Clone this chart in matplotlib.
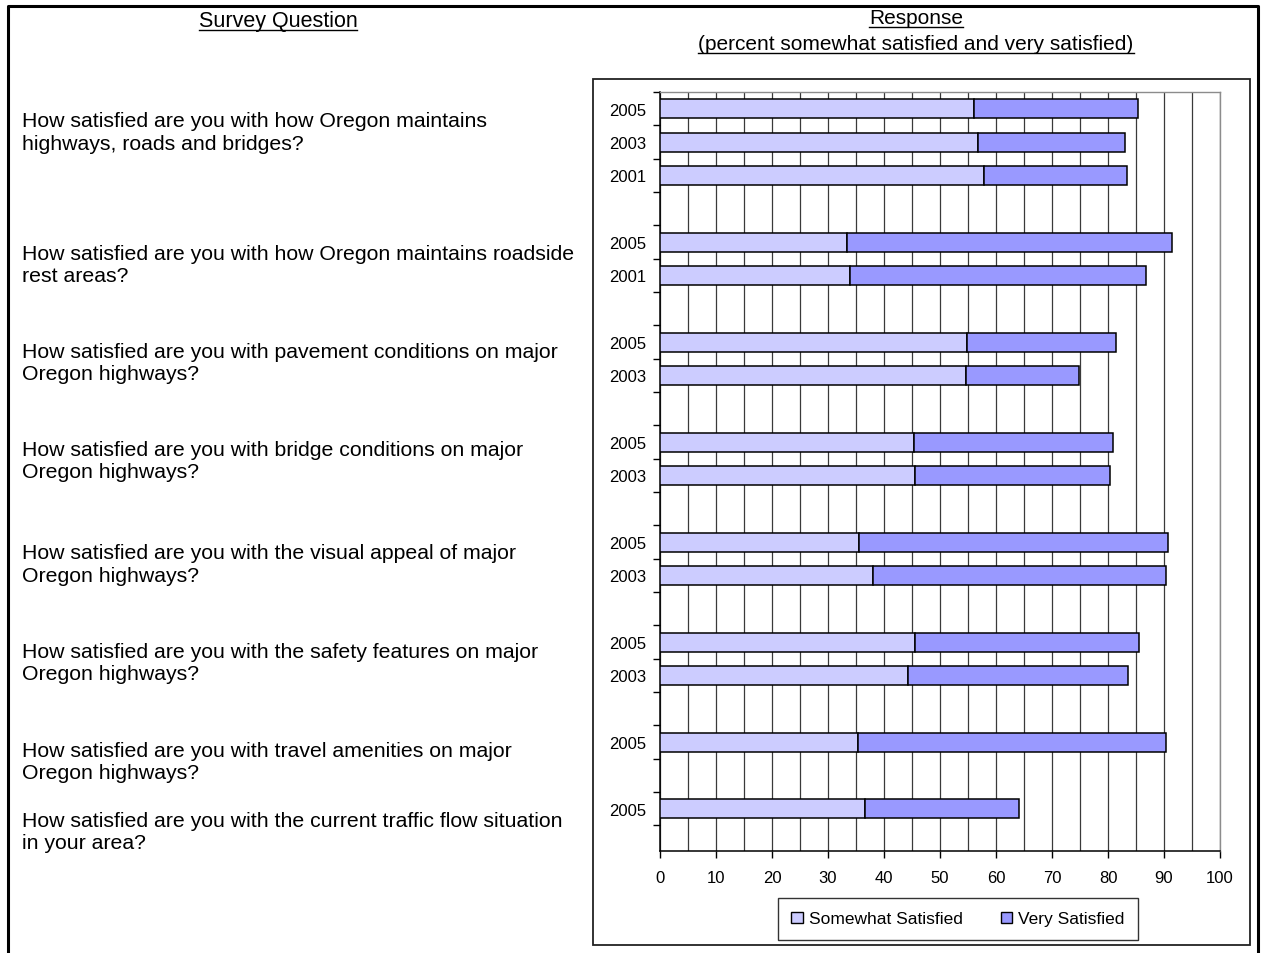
import matplotlib
matplotlib.use("Agg")
import matplotlib.pyplot as plt
from matplotlib.ticker import FixedLocator, MultipleLocator
from matplotlib.patches import Patch, Rectangle
from matplotlib.lines import Line2D
import numpy as np

plt.rcParams['font.family'] = ['Liberation Sans', 'DejaVu Sans']

# ---------------- data ----------------
questions = [
    "How satisfied are you with how Oregon maintains\nhighways, roads and bridges?",
    "How satisfied are you with how Oregon maintains roadside\nrest areas?",
    "How satisfied are you with pavement conditions on major\nOregon highways?",
    "How satisfied are you with bridge conditions on major\nOregon highways?",
    "How satisfied are you with the visual appeal of major\nOregon highways?",
    "How satisfied are you with the safety features on major\nOregon highways?",
    "How satisfied are you with travel amenities on major\nOregon highways?",
    "How satisfied are you with the current traffic flow situation\nin your area?",
]
years = [
    ["2005", "2003", "2001"],
    ["2005", "2001"],
    ["2005", "2003"],
    ["2005", "2003"],
    ["2005", "2003"],
    ["2005", "2003"],
    ["2005"],
    ["2005"],
]
somewhat_satisfied = [
    [56.0, 56.7, 57.9],
    [33.4, 33.9],
    [54.9, 54.6],
    [45.4, 45.6],
    [35.6, 38.1],
    [45.6, 44.2],
    [35.4],
    [36.6],
]
very_satisfied = [
    [29.3, 26.4, 25.5],
    [58.1, 52.9],
    [26.5, 20.3],
    [35.5, 34.8],
    [55.1, 52.3],
    [40.0, 39.4],
    [55.0],
    [27.5],
]
series_names = ["Somewhat Satisfied", "Very Satisfied"]
x_ticks = list(range(0, 101, 10))

# ---------------- styling ----------------
c_some = "#CCCCFF"
c_very = "#9999FF"

W, H = 1264, 954
fig = plt.figure(figsize=(W / 100, H / 100), dpi=100)

def fx(px):
    return px / W

def fy(py):
    return 1 - py / H

# axes placement (pixels)
ax_l, ax_r, ax_t, ax_b = 660, 1220, 93, 852
ax = fig.add_axes([fx(ax_l), fy(ax_b), fx(ax_r - ax_l), (ax_b - ax_t) / H])

# build category rows: each group followed by an empty row
row_labels = []
some_vals = []
very_vals = []
for gi, (ys, sv, vv) in enumerate(zip(years, somewhat_satisfied, very_satisfied)):
    for y, s, v in zip(ys, sv, vv):
        row_labels.append(y)
        some_vals.append(s)
        very_vals.append(v)
    if gi < len(years) - 1:
        row_labels.append("")
        some_vals.append(np.nan)
        very_vals.append(np.nan)

n_rows = len(row_labels)
pos = np.arange(n_rows) + 0.5
some_vals = np.array(some_vals)
very_vals = np.array(very_vals)
bar_h = 0.57

ax.barh(pos, some_vals, height=bar_h, color=c_some, edgecolor="black", linewidth=1.1, zorder=3)
ax.barh(pos, very_vals, left=some_vals, height=bar_h, color=c_very, edgecolor="black", linewidth=1.1, zorder=3)

ax.set_xlim(0, 100)
ax.set_ylim(n_rows + 0.77, 0)

# x axis
ax.xaxis.set_major_locator(FixedLocator(x_ticks))
ax.xaxis.set_minor_locator(MultipleLocator(5))
ax.grid(axis="x", which="both", color="#3a3a3a", linewidth=0.9, zorder=1)
ax.tick_params(axis="x", which="major", direction="out", length=5, width=1, color="black",
               labelsize=12, pad=9)
ax.tick_params(axis="x", which="minor", length=0)

# y axis
ax.yaxis.set_major_locator(FixedLocator(np.arange(0, n_rows + 1)))
ax.yaxis.set_minor_locator(FixedLocator(pos))
ax.set_yticklabels([], minor=False)
ax.set_yticklabels(row_labels, minor=True)
ax.tick_params(axis="y", which="major", direction="out", length=5, width=1, color="black", labelleft=False)
ax.tick_params(axis="y", which="minor", length=0, labelsize=12, pad=10)

for s in ["left", "bottom"]:
    ax.spines[s].set_color("black")
    ax.spines[s].set_linewidth(1.1)
for s in ["top", "right"]:
    ax.spines[s].set_color("#8c8c8c")
    ax.spines[s].set_linewidth(1.0)

# legend
handles = [Patch(facecolor=c_some, edgecolor="black", linewidth=1.0),
           Patch(facecolor=c_very, edgecolor="black", linewidth=1.0)]
leg = fig.legend(handles, series_names, loc="center", ncol=2,
                 bbox_to_anchor=(fx(958), fy(920)), bbox_transform=fig.transFigure,
                 fontsize=12.5, frameon=True, fancybox=False, edgecolor="black",
                 handlelength=0.65, handleheight=0.65, handletextpad=0.35,
                 columnspacing=2.2, borderpad=0.75, borderaxespad=0)
leg.get_frame().set_linewidth(1.0)

# chart box
fig.add_artist(Rectangle((fx(593), fy(946)), fx(1250 - 593), (946 - 80) / H,
                         transform=fig.transFigure, fill=False, edgecolor="#222222",
                         linewidth=1.3, zorder=0))

# outer frame (top, left, right)
fig.add_artist(Line2D([fx(8), fx(8), fx(1258), fx(1258)], [0, fy(7), fy(7), 0],
                      transform=fig.transFigure, color="black", linewidth=2.2))

# headers
hdrs = [
    fig.text(fx(278), fy(21), "Survey Question", ha="center", va="center", fontsize=15.5),
    fig.text(fx(916), fy(19), "Response", ha="center", va="center", fontsize=15),
    fig.text(fx(916), fy(45), "(percent somewhat satisfied and very satisfied)", ha="center",
             va="center", fontsize=15),
]

# question texts
q_centers = [133, 265.5, 363.5, 461.5, 565, 663.5, 762.5, 832.5]
for q, yc in zip(questions, q_centers):
    fig.text(fx(22), fy(yc), q, ha="left", va="center", fontsize=15.3, linespacing=1.24)

# underline headers
fig.canvas.draw()
r = fig.canvas.get_renderer()
for t in hdrs:
    bb = t.get_window_extent(renderer=r)
    yline = bb.y0 + 1
    fig.add_artist(Line2D([bb.x0 / W, bb.x1 / W], [yline / H, yline / H],
                          transform=fig.transFigure, color="black", linewidth=1.0))

fig.savefig("out.png", dpi=100)
